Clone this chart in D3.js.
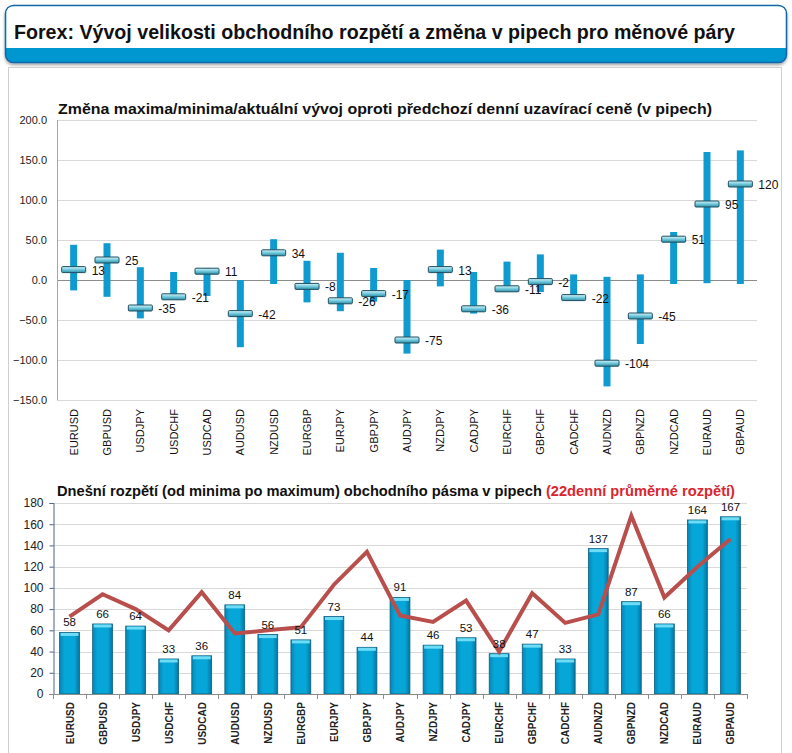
<!DOCTYPE html>
<html>
<head>
<meta charset="utf-8">
<script src="https://cdn.jsdelivr.net/npm/d3@7"></script>
<style>
body{margin:0;background:#fff;}
svg{display:block;}
</style>
</head>
<body>
<svg id="graph" width="792" height="753"></svg>
<script>
// currency pairs
var pairs=["EURUSD","GBPUSD","USDJPY","USDCHF","USDCAD","AUDUSD","NZDUSD","EURGBP","EURJPY","GBPJPY","AUDJPY","NZDJPY","CADJPY","EURCHF","GBPCHF","CADCHF","AUDNZD","GBPNZD","NZDCAD","EURAUD","GBPAUD"]
// top chart: max / min / current change vs previous close (pips)
var highs=[44,46,16,10,15,0,51,24,34,15,0,38,10,23,32,7,4,7,60,160,162]
var lows=[-13,-21,-48,-22,-20,-84,-5,-28,-39,-27,-92,-8,-42,-13,-15,-24,-133,-80,-5,-4,-5]
var current=[13,25,-35,-21,11,-42,34,-8,-26,-17,-75,13,-36,-11,-2,-22,-104,-45,51,95,120]
var topTicks=[200,150,100,50,0,-50,-100,-150]
// bottom chart: today's range and 22-day average range
var ranges=[58,66,64,33,36,84,56,51,73,44,91,46,53,38,47,33,137,87,66,164,167]
var avg22=[73,94,80,60,96,57,60,63,103,134,74,68,88,40,95,67,75,168,91,120,146]
var bottomTicks=[0,20,40,60,80,100,120,140,160,180]

var svg=d3.select("#graph")
var font="'Liberation Sans', Arial, sans-serif"

var defs=svg.append("defs")
var mg=defs.append("linearGradient").attr("id","marker").attr("x1",0).attr("y1",0).attr("x2",0).attr("y2",1)
mg.append("stop").attr("offset","0%").attr("stop-color","#d6f4fa")
mg.append("stop").attr("offset","45%").attr("stop-color","#7ccfe0")
mg.append("stop").attr("offset","100%").attr("stop-color","#2a8fa8")
var bg=defs.append("linearGradient").attr("id","bar").attr("x1",0).attr("y1",0).attr("x2",1).attr("y2",0)
bg.append("stop").attr("offset","0%").attr("stop-color","#0586b5")
bg.append("stop").attr("offset","25%").attr("stop-color","#07a6d9")
bg.append("stop").attr("offset","75%").attr("stop-color","#07a6d9")
bg.append("stop").attr("offset","100%").attr("stop-color","#05769f")
var sh=defs.append("filter").attr("id","shadow").attr("x","-5%").attr("y","-20%").attr("width","110%").attr("height","150%")
sh.append("feDropShadow").attr("dx",0).attr("dy",2).attr("stdDeviation",1.5).attr("flood-color","#000").attr("flood-opacity",0.35)

// header box
svg.append("rect").attr("x",5.5).attr("y",5.5).attr("width",781).attr("height",57).attr("rx",8)
  .attr("fill","#0096cf").attr("stroke","#1565a8").attr("stroke-width",1.5).attr("filter","url(#shadow)")
svg.append("path").attr("d","M6.3,48 L6.3,14 Q6.3,6.3 14,6.3 L778,6.3 Q785.7,6.3 785.7,14 L785.7,48 Z").attr("fill","#fff")
svg.append("text").attr("x",14).attr("y",39)
  .attr("font-family","'Liberation Sans Narrow','Arial Narrow',"+font).attr("font-weight","bold").attr("font-size",21)
  .attr("textLength",721).attr("lengthAdjust","spacingAndGlyphs").attr("fill","#111")
  .text("Forex: Vývoj velikosti obchodního rozpětí a změna v pipech pro měnové páry")

// panel
svg.append("rect").attr("x",8.5).attr("y",67.5).attr("width",773).attr("height",690).attr("fill","#fff").attr("stroke","#d0d0d0")

// ---------- top chart ----------
var xTop=d3.scaleBand().domain(pairs).range([57,757])
var yTop=d3.scaleLinear().domain([-150,200]).range([400,120])
var gTop=svg.append("g")

gTop.selectAll(".grid").data(topTicks).enter().append("line")
  .attr("x1",57).attr("x2",757).attr("y1",function(d){return yTop(d)+0.5}).attr("y2",function(d){return yTop(d)+0.5})
  .attr("stroke",function(d){return d==0?"#8c8c8c":"#d9d9d9"})
gTop.append("line").attr("x1",57.5).attr("x2",57.5).attr("y1",120).attr("y2",400).attr("stroke","#a6a6a6")
gTop.selectAll(".yl").data(topTicks).enter().append("text")
  .attr("x",47).attr("y",function(d){return yTop(d)+4}).attr("text-anchor","end")
  .attr("font-family",font).attr("font-size",11).attr("fill","#222").text(function(d){return d3.format(".1f")(d)})

gTop.selectAll(".rng").data(pairs).enter().append("rect")
  .attr("x",function(d){return xTop(d)+xTop.bandwidth()/2-3.5}).attr("width",7)
  .attr("y",function(d,i){return yTop(highs[i])}).attr("height",function(d,i){return yTop(lows[i])-yTop(highs[i])})
  .attr("fill","#0f9ad0")
gTop.selectAll(".mk").data(pairs).enter().append("rect")
  .attr("x",function(d){return xTop(d)+xTop.bandwidth()/2-12}).attr("width",24)
  .attr("y",function(d,i){return yTop(current[i])-3}).attr("height",6).attr("rx",1)
  .attr("fill","url(#marker)").attr("stroke","#1f4e5e").attr("stroke-width",1)
gTop.selectAll(".ml").data(pairs).enter().append("text")
  .attr("x",function(d){return xTop(d)+xTop.bandwidth()/2+18}).attr("y",function(d,i){return yTop(current[i])+5})
  .attr("font-family",font).attr("font-size",12).attr("fill","#111").text(function(d,i){return current[i]})
gTop.selectAll(".xl").data(pairs).enter().append("text")
  .attr("transform",function(d){return "translate("+(xTop(d)+xTop.bandwidth()/2+4)+",409) rotate(-90)"})
  .attr("text-anchor","end").attr("font-family",font).attr("font-size",11).attr("fill","#111").text(function(d){return d})
svg.append("text").attr("x",58).attr("y",114).attr("font-family",font).attr("font-weight","bold").attr("font-size",15)
  .attr("textLength",654).attr("lengthAdjust","spacingAndGlyphs").attr("fill","#111")
  .text("Změna maxima/minima/aktuální vývoj oproti předchozí denní uzavírací ceně (v pipech)")

// ---------- bottom chart ----------
var xBot=d3.scaleBand().domain(pairs).range([53,747]).paddingInner(0.4).paddingOuter(0.2)
var xBotPt=d3.scalePoint().domain(pairs).range([53,747]).padding(0.5)
var yBot=d3.scaleLinear().domain([0,180]).range([694,503])
var gBot=svg.append("g")

gBot.selectAll(".grid").data(bottomTicks.slice(1)).enter().append("line")
  .attr("x1",53).attr("x2",747).attr("y1",function(d){return Math.round(yBot(d))+0.5}).attr("y2",function(d){return Math.round(yBot(d))+0.5})
  .attr("stroke","#d9d9d9")
gBot.selectAll(".bar").data(pairs).enter().append("rect")
  .attr("x",function(d){return xBot(d)}).attr("width",xBot.bandwidth())
  .attr("y",function(d,i){return yBot(ranges[i])}).attr("height",function(d,i){return yBot(0)-yBot(ranges[i])})
  .attr("fill","url(#bar)").attr("stroke","#0b5f80").attr("stroke-width",0.8)
gBot.selectAll(".cap").data(pairs).enter().append("rect")
  .attr("x",function(d){return xBot(d)+1}).attr("width",xBot.bandwidth()-2)
  .attr("y",function(d,i){return yBot(ranges[i])+0.5}).attr("height",3)
  .attr("fill","#6fdcf5")

var line=d3.line().x(function(d,i){return xBotPt(pairs[i])}).y(function(d){return yBot(d)})
gBot.append("path").datum(avg22).attr("d",line).attr("fill","none").attr("stroke","#b84f4c").attr("stroke-width",4).attr("stroke-linejoin","miter")

gBot.selectAll(".bl").data(pairs).enter().append("text")
  .attr("x",function(d){return xBotPt(d)}).attr("y",function(d,i){return yBot(ranges[i])-6}).attr("text-anchor","middle")
  .attr("font-family",font).attr("font-size",11.5).attr("fill","#111").text(function(d,i){return ranges[i]})

var axY=d3.axisLeft(yBot).tickValues(bottomTicks).tickSize(4).tickPadding(6)
var gy=gBot.append("g").attr("transform","translate(53.5,0)").call(axY)
gy.select(".domain").attr("stroke","#4f6280")
gy.selectAll(".tick line").attr("stroke","#4f6280")
gy.selectAll("text").attr("font-family",font).attr("font-size",12).attr("fill","#222")
gBot.append("line").attr("x1",49).attr("x2",747).attr("y1",694.5).attr("y2",694.5).attr("stroke","#8c8c8c")
gBot.selectAll(".xt").data(pairs.concat(["end"])).enter().append("line")
  .attr("x1",function(d,i){return Math.round(53+i*(694/21))+0.5}).attr("x2",function(d,i){return Math.round(53+i*(694/21))+0.5})
  .attr("y1",694).attr("y2",699).attr("stroke","#8c8c8c")
gBot.selectAll(".xl").data(pairs).enter().append("text")
  .attr("transform",function(d){return "translate("+(xBotPt(d)+4)+",702) rotate(-90)"})
  .attr("text-anchor","end").attr("font-family",font).attr("font-weight","bold").attr("font-size",10).attr("fill","#222").text(function(d){return d})

var t2=svg.append("text").attr("x",57).attr("y",496).attr("font-family",font).attr("font-weight","bold").attr("font-size",14.5)
  .attr("textLength",678).attr("lengthAdjust","spacingAndGlyphs")
t2.append("tspan").attr("fill","#111").text("Dnešní rozpětí (od minima po maximum) obchodního pásma v pipech ")
t2.append("tspan").attr("fill","#d9262e").text("(22denní průměrné rozpětí)")
</script>
</body>
</html>
